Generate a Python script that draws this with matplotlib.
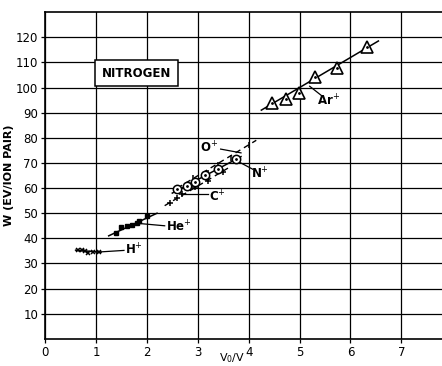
import matplotlib

matplotlib.use("Agg")
import matplotlib.pyplot as plt

# H+ points
h_x = [0.65, 0.72, 0.78, 0.85, 0.95, 1.05]
h_w = [35.5, 35.2, 35.0, 34.2, 34.6, 34.5]
# He+ points
he_x = [1.4, 1.5, 1.6, 1.7, 1.8, 1.85, 2.0]
he_w = [42.0, 44.5, 45.0, 45.5, 46.0, 47.0, 49.0]
# C+ points
c_x = [2.45, 2.6, 2.7, 2.95, 3.2, 3.5]
c_w = [54.0, 56.0, 57.5, 60.5, 63.0, 66.5]
# N+ points
n_x = [2.6, 2.78, 2.95, 3.15, 3.4, 3.75]
n_w = [59.5, 61.0, 62.5, 65.0, 67.5, 71.5]
# O+ points
o_x = [2.9, 3.2, 3.4, 3.65, 4.0]
o_w = [64.0, 66.0, 69.0, 72.0, 77.0]
# Ar+ points
ar_x = [4.46, 4.73, 4.99, 5.31, 5.74, 6.33]
ar_w = [93.8, 95.5, 97.7, 104.1, 107.8, 116.0]

# fitted lines (end points)
h_line = ([0.6, 1.1], [35.3, 34.5])
he_line = ([1.25, 2.2], [41.0, 50.0])
c_line = ([2.35, 3.6], [53.0, 68.0])
n_line = ([2.5, 3.85], [58.0, 72.5])
o_line = ([2.6, 4.15], [60.0, 79.0])
ar_line = ([4.25, 6.55], [91.0, 118.5])

xticks = [0, 1, 2, 3, 4, 5, 6, 7]
yticks = list(range(10, 130, 10))

fig = plt.figure(figsize=(4.42, 3.66), dpi=100)
ax = fig.add_axes([0.102, 0.074, 0.898, 0.893])

ax.set_xlim(0, 7.8)
ax.set_ylim(0, 130)
ax.set_xticks(xticks)
ax.set_yticks(yticks)
ax.grid(True, color="black", linewidth=0.9)
ax.spines["right"].set_visible(False)
for s in ["left", "bottom", "top"]:
    ax.spines[s].set_linewidth(1.2)
ax.tick_params(direction="out", length=3, width=0.9, labelsize=8.5, pad=2)
ax.set_axisbelow(True)

k = dict(color="black", linewidth=1.1, zorder=3)
ax.plot(*h_line, **k)
ax.plot(*he_line, **k)
ax.plot(*n_line, **k)
ax.plot(*ar_line, **k)
ax.plot(*c_line, color="black", linewidth=1.0, linestyle=(0, (4, 3)), zorder=3)
ax.plot(*o_line, color="black", linewidth=1.0, linestyle=(0, (4, 3)), zorder=3)

ax.plot(h_x, h_w, "x", color="black", markersize=3, mew=1.1, zorder=4)
ax.plot(he_x, he_w, "s", color="black", markersize=2.8, zorder=4)
ax.plot(c_x, c_w, "+", color="black", markersize=4, mew=1.1, zorder=4)
ax.plot(o_x, o_w, "|", color="black", markersize=5, mew=1.1, zorder=4)
ax.plot(n_x, n_w, "o", mfc="white", mec="black", markersize=6, mew=1.1, zorder=5)
ax.plot(n_x, n_w, ".", color="black", markersize=2, zorder=6)
ax.plot(ar_x, ar_w, "^", mfc="white", mec="black", markersize=8, mew=1.2, zorder=5)
ax.plot(ar_x, ar_w, ".", color="black", markersize=2, zorder=6)

lab = dict(fontsize=8.5, fontweight="bold", va="center", ha="left")
ax.plot([1.0, 1.55], [34.5, 35.2], color="black", linewidth=0.9)
ax.text(1.58, 35.2, "H$^{+}$", **lab)
ax.plot([1.8, 2.35], [46.0, 45.0], color="black", linewidth=0.9)
ax.text(2.38, 44.5, "He$^{+}$", **lab)
ax.plot([2.7, 3.2], [57.5, 57.5], color="black", linewidth=0.9)
ax.text(3.23, 56.5, "C$^{+}$", **lab)
ax.plot([3.45, 3.85], [75.5, 74.0], color="black", linewidth=0.9)
ax.text(3.05, 76.0, "O$^{+}$", **lab)
ax.plot([3.8, 4.08], [70.5, 67.5], color="black", linewidth=0.9)
ax.text(4.05, 65.5, "N$^{+}$", **lab)
ax.plot([5.2, 5.45], [100.5, 96.5], color="black", linewidth=0.9)
ax.text(5.35, 94.5, "Ar$^{+}$", **lab)

ax.text(1.8, 105.7, "NITROGEN", fontsize=8.5, fontweight="bold", ha="center", va="center",
        bbox=dict(boxstyle="square,pad=0.55", facecolor="white", edgecolor="black", linewidth=1.1))

ax.set_ylabel("W (EV/ION PAIR)", fontsize=8, fontweight="bold", labelpad=1)
fig.text(0.525, 0.003, "V$_0$/V", fontsize=8, ha="center", va="bottom")

fig.savefig("out.png", dpi=100)
